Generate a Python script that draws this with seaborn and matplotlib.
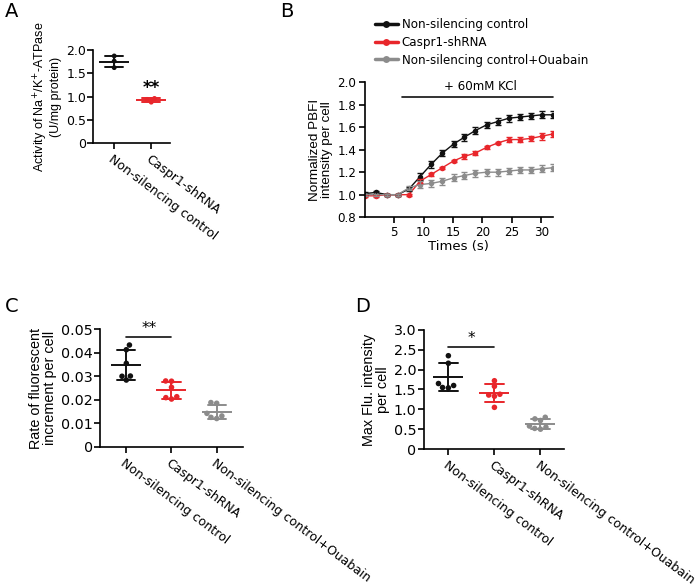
import numpy as np
import pandas as pd
import matplotlib
matplotlib.use("Agg")
import matplotlib.pyplot as plt
from matplotlib.ticker import FuncFormatter
import seaborn as sns

sns.set_theme(style="ticks")
plt.rcParams['font.family'] = ['DejaVu Sans']
plt.rcParams['axes.linewidth'] = 1.2
plt.rcParams['xtick.major.width'] = 1.2
plt.rcParams['ytick.major.width'] = 1.2
for k in ['text.color', 'axes.labelcolor', 'xtick.color', 'ytick.color', 'axes.edgecolor']:
    plt.rcParams[k] = 'black'

#%%
# data
groups = ["Non-silencing control", "Caspr1-shRNA", "Non-silencing control+Ouabain"]
colors = ["#111111", "#e8262b", "#8c8c8c"]

# A - Na+/K+-ATPase activity
atpase_ctrl = [1.87, 1.76, 1.62]
atpase_sh = [0.96, 0.94, 0.88]

# B - PBFI time course
times = [0, 1.9, 3.8, 5.6, 7.5, 9.4, 11.3, 13.2, 15.1, 16.9, 18.8, 20.7, 22.6, 24.5, 26.4, 28.2, 30.1, 32.0]
pbfi_ctrl = [1.01, 1.02, 1.00, 1.00, 1.05, 1.16, 1.27, 1.37, 1.45, 1.51, 1.57, 1.62, 1.65, 1.68, 1.69, 1.70, 1.71, 1.71]
pbfi_sh = [0.99, 0.99, 1.00, 1.00, 1.00, 1.12, 1.18, 1.24, 1.30, 1.34, 1.37, 1.42, 1.46, 1.49, 1.49, 1.50, 1.52, 1.54]
pbfi_oua = [1.00, 1.00, 1.00, 1.00, 1.06, 1.09, 1.10, 1.12, 1.15, 1.17, 1.19, 1.20, 1.20, 1.21, 1.22, 1.22, 1.23, 1.24]
err_ctrl = [0.01, 0.01, 0.01, 0.01, 0.02, 0.03, 0.03, 0.03, 0.03, 0.03, 0.03, 0.03, 0.03, 0.03, 0.03, 0.03, 0.03, 0.03]
err_sh = [0.01, 0.01, 0.01, 0.01, 0.01, 0.02, 0.01, 0.01, 0.01, 0.02, 0.02, 0.01, 0.01, 0.02, 0.02, 0.02, 0.03, 0.03]
err_oua = [0.01, 0.01, 0.01, 0.01, 0.02, 0.03, 0.03, 0.03, 0.03, 0.03, 0.03, 0.03, 0.03, 0.03, 0.03, 0.03, 0.03, 0.03]
kcl_start, kcl_end, kcl_y = 6.3, 32.0, 1.87

# C - rate of fluorescent increment
rate_ctrl = [0.0433, 0.0413, 0.0355, 0.0301, 0.0300, 0.0284]
rate_sh = [0.0280, 0.0279, 0.0253, 0.0213, 0.0209, 0.0203]
rate_oua = [0.0185, 0.0188, 0.0142, 0.0131, 0.0125, 0.0120]
sig_c = 0.0469

# D - max fluorescence intensity
max_ctrl = [2.35, 2.16, 1.65, 1.60, 1.55, 1.54]
max_sh = [1.72, 1.58, 1.38, 1.36, 1.33, 1.05]
max_oua = [0.80, 0.76, 0.72, 0.58, 0.55, 0.52, 0.50]
sig_d = 2.58

YLAB = dict(family=['Liberation Sans', 'DejaVu Sans'], linespacing=1.0)

#%%
def long_df(names, series):
    rows = []
    for g, vals in zip(names, series):
        for v in vals:
            rows.append({'group': g, 'value': v})
    return pd.DataFrame(rows)


def zero_fmt(v, pos):
    if abs(v) < 1e-12:
        return "0"
    return f"{v:.1f}"


def scatter_panel(ax, df, names, mean_size, cap, dot, ytick_size):
    pal = dict(zip(names, colors))
    sns.swarmplot(data=df, x='group', y='value', hue='group', palette=pal,
                  size=dot, legend=False, ax=ax, order=names)
    sns.pointplot(data=df, x='group', y='value', hue='group', palette=pal,
                  errorbar='sd', markers='_', markersize=mean_size,
                  markeredgewidth=1.4, linestyle='none', capsize=cap,
                  err_kws={'linewidth': 1.4}, legend=False, ax=ax, order=names)
    ax.set_xlabel("")
    ax.tick_params(axis='x', length=4, labelsize=9, pad=3)
    ax.tick_params(axis='y', length=4, labelsize=ytick_size, pad=1)
    for lab in ax.get_xticklabels():
        lab.set_rotation(-37)
        lab.set_ha('left')
        lab.set_va('top')
        lab.set_rotation_mode('anchor')
    ax.yaxis.set_major_formatter(FuncFormatter(zero_fmt))
    sns.despine(ax=ax)


fig = plt.figure(figsize=(7, 5.87), dpi=100)

#%%
# A
ax_a = fig.add_axes([0.133, 0.756, 0.110, 0.159])
df_a = long_df(groups[:2], [atpase_ctrl, atpase_sh])
scatter_panel(ax_a, df_a, groups[:2], 22, 0.5, 3.5, 9)
ax_a.set_xlim(-0.57, 1.51)
ax_a.set_ylim(0, 2.0)
ax_a.set_yticks([0, 0.5, 1.0, 1.5, 2.0])
ax_a.set_ylabel("Activity of Na$^{+}$/K$^{+}$-ATPase\n(U/mg protein)", fontsize=9, labelpad=3, **YLAB)
ax_a.text(1, 1.0, "**", ha='center', va='bottom', fontsize=12, fontweight='bold')

#%%
# B
ax_b = fig.add_axes([0.521, 0.630, 0.269, 0.230])
df_b = pd.concat([
    pd.DataFrame({'time': times, 'value': pbfi_ctrl, 'group': groups[0]}),
    pd.DataFrame({'time': times, 'value': pbfi_sh, 'group': groups[1]}),
    pd.DataFrame({'time': times, 'value': pbfi_oua, 'group': groups[2]}),
])
sns.lineplot(data=df_b, x='time', y='value', hue='group', palette=dict(zip(groups, colors)),
             marker='o', markersize=4, markeredgewidth=0, linewidth=1, ax=ax_b)
for vals, err, c in zip([pbfi_ctrl, pbfi_sh, pbfi_oua], [err_ctrl, err_sh, err_oua], colors):
    ax_b.errorbar(times, vals, yerr=err, fmt='none', ecolor=c, elinewidth=1, capsize=2, capthick=1)
handles, labels = ax_b.get_legend_handles_labels()
ax_b.get_legend().remove()
for h in handles:
    h.set_linewidth(2.5)
    h.set_markersize(5)
fig.legend(handles, labels, loc='upper left', bbox_to_anchor=(375 / 700, 1 - 18 / 587),
           frameon=False, fontsize=8.6, handlelength=1.9, handletextpad=0.33,
           labelspacing=0.4, borderpad=0, borderaxespad=0)
ax_b.plot([kcl_start, kcl_end], [kcl_y, kcl_y], color='#111111', linewidth=1.2, clip_on=False)
ax_b.text((kcl_start + kcl_end) / 2 + 0.5, kcl_y + 0.03, "+ 60mM KCl", ha='center', va='bottom', fontsize=8.6)
ax_b.set_xlim(0, 32)
ax_b.set_ylim(0.8, 2.0)
ax_b.set_xticks([5, 10, 15, 20, 25, 30])
ax_b.set_yticks([0.8, 1.0, 1.2, 1.4, 1.6, 1.8, 2.0])
ax_b.yaxis.set_major_formatter(FuncFormatter(lambda v, p: f"{v:.1f}"))
ax_b.tick_params(length=4, labelsize=8.6, pad=2)
ax_b.set_xlabel("Times (s)", fontsize=9.5, labelpad=1)
ax_b.set_ylabel("Normalized PBFI\nintensity per cell", fontsize=9.7, labelpad=3, **YLAB)
sns.despine(ax=ax_b)

#%%
# C
ax_c = fig.add_axes([0.143, 0.239, 0.204, 0.200])
df_c = long_df(groups, [rate_ctrl, rate_sh, rate_oua])
scatter_panel(ax_c, df_c, groups, 21, 0.4, 4, 10.3)
ax_c.set_xlim(-0.58, 2.58)
ax_c.set_ylim(0, 0.05)
ax_c.set_yticks([0, 0.01, 0.02, 0.03, 0.04, 0.05])
ax_c.yaxis.set_major_formatter(FuncFormatter(lambda v, p: "0" if v == 0 else f"{v:.2f}"))
ax_c.set_ylabel("Rate of fluorescent\nincrement per cell", fontsize=10.4, labelpad=3, **YLAB)
ax_c.plot([0, 1], [sig_c, sig_c], color='#111111', linewidth=1.2)
ax_c.text(0.5, sig_c + 0.0003, "**", ha='center', va='bottom', fontsize=11)

#%%
# D
ax_d = fig.add_axes([0.605, 0.235, 0.200, 0.203])
df_d = long_df(groups, [max_ctrl, max_sh, max_oua])
scatter_panel(ax_d, df_d, groups, 22, 0.4, 4, 10.3)
ax_d.set_xlim(-0.54, 2.5)
ax_d.set_ylim(0, 3.0)
ax_d.set_yticks([0, 0.5, 1.0, 1.5, 2.0, 2.5, 3.0])
ax_d.set_ylabel("Max Flu. intensity\nper cell", fontsize=10.4, labelpad=3, **YLAB)
ax_d.plot([0, 1], [sig_d, sig_d], color='#111111', linewidth=1.2)
ax_d.text(0.5, sig_d + 0.02, "*", ha='center', va='bottom', fontsize=11)

# panel letters
for letter, x, y in [("A", 5, 2), ("B", 280, 2), ("C", 5, 297), ("D", 355, 297)]:
    fig.text(x / 700, 1 - y / 587, letter, fontsize=14, va='top', ha='left')

fig.savefig("out.png", dpi=100)
